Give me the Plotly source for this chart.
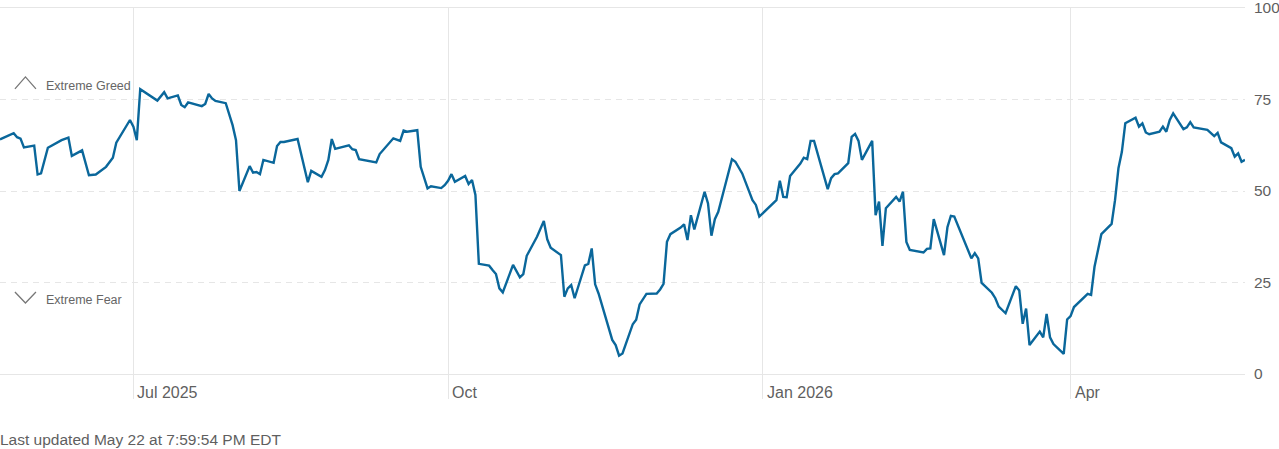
import plotly.graph_objects as go

# Fear & Greed index readings (trading days)
dates = [
    "2025-05-23", "2025-05-27", "2025-05-28", "2025-05-29", "2025-05-30",
    "2025-06-02", "2025-06-03", "2025-06-04", "2025-06-06", "2025-06-10",
    "2025-06-12", "2025-06-13", "2025-06-16", "2025-06-18", "2025-06-20",
    "2025-06-23", "2025-06-25", "2025-06-26", "2025-06-30", "2025-07-01",
    "2025-07-02", "2025-07-03", "2025-07-08", "2025-07-10", "2025-07-11",
    "2025-07-14", "2025-07-15", "2025-07-16", "2025-07-17", "2025-07-21",
    "2025-07-22", "2025-07-23", "2025-07-24", "2025-07-25", "2025-07-28",
    "2025-07-29", "2025-07-30", "2025-07-31", "2025-08-01", "2025-08-04",
    "2025-08-05", "2025-08-06", "2025-08-07", "2025-08-08", "2025-08-11",
    "2025-08-12", "2025-08-13", "2025-08-14", "2025-08-18", "2025-08-21",
    "2025-08-22", "2025-08-25", "2025-08-26", "2025-08-27", "2025-08-28",
    "2025-08-29", "2025-09-02", "2025-09-03", "2025-09-04", "2025-09-05",
    "2025-09-10", "2025-09-11", "2025-09-15", "2025-09-17", "2025-09-18",
    "2025-09-19", "2025-09-22", "2025-09-23", "2025-09-24", "2025-09-25",
    "2025-09-26", "2025-09-29", "2025-09-30", "2025-10-01", "2025-10-02",
    "2025-10-03", "2025-10-06", "2025-10-07", "2025-10-08", "2025-10-09",
    "2025-10-10", "2025-10-13", "2025-10-14", "2025-10-15", "2025-10-16",
    "2025-10-17", "2025-10-20", "2025-10-22", "2025-10-23", "2025-10-24",
    "2025-10-27", "2025-10-29", "2025-10-30", "2025-10-31", "2025-11-03",
    "2025-11-04", "2025-11-05", "2025-11-06", "2025-11-07", "2025-11-10",
    "2025-11-11", "2025-11-12", "2025-11-13", "2025-11-14", "2025-11-18",
    "2025-11-19", "2025-11-20", "2025-11-21", "2025-11-24", "2025-11-25",
    "2025-11-26", "2025-11-28", "2025-12-01", "2025-12-02", "2025-12-03",
    "2025-12-04", "2025-12-05", "2025-12-08", "2025-12-09", "2025-12-10",
    "2025-12-11", "2025-12-12", "2025-12-15", "2025-12-16", "2025-12-17",
    "2025-12-18", "2025-12-19", "2025-12-23", "2025-12-24", "2025-12-26",
    "2025-12-29", "2025-12-30", "2025-12-31", "2026-01-02", "2026-01-05",
    "2026-01-06", "2026-01-07", "2026-01-08", "2026-01-09", "2026-01-12",
    "2026-01-13", "2026-01-14", "2026-01-15", "2026-01-16", "2026-01-20",
    "2026-01-21", "2026-01-22", "2026-01-23", "2026-01-26", "2026-01-27",
    "2026-01-28", "2026-01-29", "2026-01-30", "2026-02-02", "2026-02-03",
    "2026-02-04", "2026-02-05", "2026-02-06", "2026-02-09", "2026-02-10",
    "2026-02-11", "2026-02-12", "2026-02-13", "2026-02-17", "2026-02-18",
    "2026-02-19", "2026-02-20", "2026-02-23", "2026-02-24", "2026-02-25",
    "2026-02-26", "2026-03-03", "2026-03-04", "2026-03-05", "2026-03-06",
    "2026-03-09", "2026-03-10", "2026-03-11", "2026-03-13", "2026-03-16",
    "2026-03-17", "2026-03-18", "2026-03-19", "2026-03-20", "2026-03-23",
    "2026-03-24", "2026-03-25", "2026-03-26", "2026-03-27", "2026-03-30",
    "2026-03-31", "2026-04-01", "2026-04-02", "2026-04-06", "2026-04-07",
    "2026-04-08", "2026-04-10", "2026-04-13", "2026-04-14", "2026-04-15",
    "2026-04-16", "2026-04-17", "2026-04-20", "2026-04-21", "2026-04-22",
    "2026-04-23", "2026-04-24", "2026-04-27", "2026-04-28", "2026-04-29",
    "2026-04-30", "2026-05-01", "2026-05-04", "2026-05-05", "2026-05-06",
    "2026-05-07", "2026-05-11", "2026-05-13", "2026-05-14", "2026-05-15",
    "2026-05-18", "2026-05-19", "2026-05-20", "2026-05-21", "2026-05-22",
]

index_values = [
    64.1, 65.8, 64.7, 64.3, 61.9,
    62.4, 54.5, 54.8, 61.8, 63.9,
    64.6, 59.6, 61.1, 54.3, 54.5,
    56.6, 59.1, 63.2, 69.4, 67.6,
    63.9, 77.8, 74.7, 77.0, 75.3,
    76.1, 73.5, 72.9, 74.2, 73.2,
    73.8, 76.5, 75.3, 74.6, 74.0,
    70.8, 68.0, 63.9, 50.0, 56.8,
    55.0, 55.2, 54.6, 58.5, 57.7,
    62.3, 63.4, 63.4, 64.2, 52.4,
    55.5, 53.9, 55.7, 58.5, 64.2,
    61.5, 62.5, 61.4, 61.2, 58.7,
    57.8, 60.1, 64.4, 63.7, 66.5,
    66.2, 66.6, 56.6, 53.9, 50.7,
    51.3, 50.8, 51.6, 52.8, 54.6,
    52.5, 54.1, 51.9, 53.0, 48.9,
    30.1, 29.6, 28.4, 27.3, 23.4,
    22.3, 29.8, 26.4, 27.3, 32.3,
    37.5, 41.8, 36.8, 34.5, 32.5,
    21.1, 23.4, 24.3, 20.7, 29.7,
    30.1, 34.3, 24.5, 22.0, 9.3,
    7.9, 5.0, 5.6, 13.6, 14.8,
    19.0, 21.9, 22.0, 23.1, 24.6,
    36.1, 38.2, 40.0, 40.9, 36.6,
    43.4, 39.5, 49.8, 46.6, 37.8,
    42.3, 44.3, 58.7, 58.0, 54.8,
    47.5, 46.2, 43.0, 44.8, 47.5,
    52.8, 48.4, 48.3, 54.1, 57.5,
    59.1, 58.7, 63.7, 63.7, 50.5,
    53.5, 54.6, 54.8, 57.6, 64.8,
    65.6, 63.7, 58.5, 63.7, 43.4,
    47.1, 35.0, 45.3, 48.4, 47.1,
    49.8, 36.1, 33.9, 33.2, 34.2,
    34.3, 42.3, 32.5, 40.1, 43.2,
    43.0, 31.6, 33.0, 31.6, 24.9,
    22.2, 20.7, 18.4, 16.6, 24.0,
    22.8, 13.7, 17.9, 7.9, 11.6,
    10.0, 16.4, 10.0, 8.2, 5.5,
    14.9, 15.8, 18.3, 21.9, 21.6,
    29.3, 38.2, 41.0, 47.5, 56.2,
    60.7, 68.5, 70.0, 67.6, 68.5,
    66.0, 65.5, 66.2, 67.6, 66.2,
    69.4, 71.2, 66.9, 67.4, 68.8,
    67.4, 66.7, 65.0, 65.9, 63.3,
    61.7, 59.4, 60.3, 58.0, 58.5,
]

month_ticks = ["2025-07-01", "2025-10-01", "2026-01-01", "2026-04-01"]
month_labels = ["Jul 2025", "Oct", "Jan 2026", "Apr"]
y_ticks = [0, 25, 50, 75, 100]
x_start, x_end = "2025-05-23", "2026-05-22"

GRID = "#e6e6e6"
TEXT = "#5f5f5f"
FONT = "Liberation Sans, Arial, sans-serif"

fig = go.Figure()
fig.add_trace(go.Scatter(
    x=dates, y=index_values, mode="lines",
    line=dict(color="#0a679b", width=2.4),
    hoverinfo="skip", showlegend=False,
))

fig.update_xaxes(
    type="date", range=[x_start, x_end],
    tickvals=month_ticks, showticklabels=False,
    showgrid=True, gridcolor=GRID, gridwidth=1,
    ticks="outside", ticklen=24, tickcolor=GRID, tickwidth=1,
    showline=True, mirror=True, linecolor=GRID, linewidth=1,
    zeroline=False, fixedrange=True,
)
fig.update_yaxes(
    range=[0, 100], side="right", tickvals=y_ticks,
    showgrid=True, gridcolor=GRID, griddash="6px,5px", gridwidth=1,
    zeroline=True, zerolinecolor=GRID, zerolinewidth=2,
    ticks="", ticklabelstandoff=8, ticklabeloverflow="allow",
    tickfont=dict(family=FONT, size=15.5, color=TEXT),
    fixedrange=True,
)

# month labels sit to the right of their grid line, below the axis
for tv, lab in zip(month_ticks, month_labels):
    fig.add_annotation(
        x=tv, y=0, yref="paper", text=lab, showarrow=False,
        xanchor="left", yanchor="top", xshift=2, yshift=-8,
        font=dict(family=FONT, size=16, color=TEXT),
    )

# zone markers on the left
fig.add_annotation(x=0.0355, y=0.788, xref="paper", yref="paper",
                   text="Extreme Greed", showarrow=False,
                   xanchor="left", yanchor="middle",
                   font=dict(family=FONT, size=12.5, color="#666"))
fig.add_annotation(x=0.0355, y=0.202, xref="paper", yref="paper",
                   text="Extreme Fear", showarrow=False,
                   xanchor="left", yanchor="middle",
                   font=dict(family=FONT, size=12.5, color="#666"))
fig.add_shape(type="path", xref="paper", yref="paper",
              xsizemode="pixel", ysizemode="pixel",
              xanchor=0.012, yanchor=0.779,
              path="M0,0 L10.5,12 L21,0",
              line=dict(color="#777", width=1.3))
fig.add_shape(type="path", xref="paper", yref="paper",
              xsizemode="pixel", ysizemode="pixel",
              xanchor=0.012, yanchor=0.224,
              path="M0,0 L10.5,-11 L21,0",
              line=dict(color="#777", width=1.3))

fig.add_annotation(x=0, y=-0.18, xref="paper", yref="paper",
                   text="Last updated May 22 at 7:59:54 PM EDT",
                   showarrow=False, xanchor="left", yanchor="middle",
                   xshift=-2,
                   font=dict(family=FONT, size=15.5, color=TEXT))

fig.update_layout(
    width=1279, height=449,
    margin=dict(l=0, r=34, t=8, b=75),
    paper_bgcolor="white", plot_bgcolor="white",
)

# drop the browser's default body margin so the chart sits at the page corner
fig.write_html("out.html", config={"displayModeBar": False},
               post_script="document.body.style.margin='0px';")
